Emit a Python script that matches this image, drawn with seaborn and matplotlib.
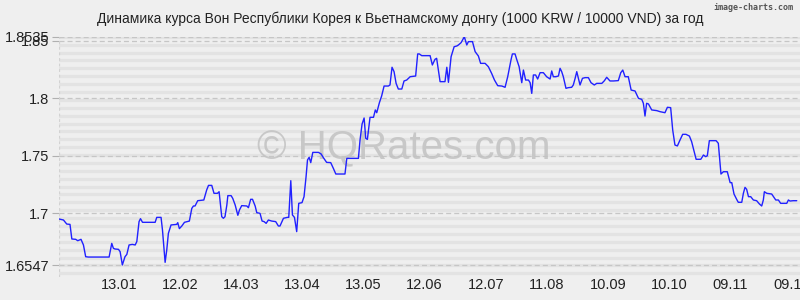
import numpy as np
import pandas as pd
import matplotlib
matplotlib.use("Agg")
import matplotlib.pyplot as plt
import seaborn as sns

# ---------------- data ----------------
title = "Динамика курса Вон Республики Корея к Вьетнамскому донгу (1000 KRW / 10000 VND) за год"

# days counted from 13.01 (first x tick)
day_offsets = [
    -29.5, -27.3, -25.7, -24.1, -23.2, -21.3, -20.3, -18.7, -17.5, -16.4, -15.1, -4.9,
    -3.6, -2.8, -2.0, -0.3, 0.5, 1.6, 2.9, 3.8, 4.9, 6.5, 7.9, 8.7, 9.8, 10.5, 11.5,
    17.7, 18.5, 20.6, 21.3, 22.6, 23.4, 24.2, 25.5, 28.3, 28.8, 29.6, 30.8, 32.1, 34.5,
    35.7, 36.5, 37.3, 38.6, 41.6, 43.0, 43.9, 45.5, 46.6, 48.3, 49.1, 50.4, 51.2, 52.0,
    52.9, 53.4, 55.0, 55.8, 57.0, 58.3, 59.1, 60.2,
    62.7, 63.5, 64.6, 65.5, 66.8, 67.6, 69.2, 70.2, 71.2, 72.2, 73.3, 74.9, 76.9, 78.2,
    79.0, 80.7, 82.6, 83.3, 84.3, 85.1, 86.1, 87.2, 88.2, 89.8, 90.8, 91.8, 92.5, 93.3,
    94.1, 95.1, 97.9, 99.2, 100.3, 101.9, 103.9, 105.2, 106.4, 108.5, 110.9, 111.8,
    114.2, 117.5, 118.3, 119.3, 120.3, 121.1, 121.9, 123.2, 124.9, 125.8, 126.5, 127.8,
    128.9, 130.1, 132.2, 133.0, 134.0, 135.0, 136.0, 137.1, 138.8, 139.9, 141.2, 142.9,
    145.6, 146.6, 147.4, 148.6, 152.7,
    153.8, 155.1, 155.9, 157.6, 159.2, 160.0, 160.9, 161.7, 163.0, 164.5, 165.8, 166.6,
    167.9, 169.5, 170.7, 171.5, 173.5, 174.8, 176.4, 177.5, 179.7, 181.3, 182.9, 184.3,
    185.9, 187.9, 189.5, 190.8, 192.4, 193.1, 194.4, 195.2, 196.4, 197.7, 198.5, 199.6,
    201.0, 201.8, 202.6, 203.4, 204.5, 205.5, 206.7, 208.3, 209.9, 211.6, 212.4, 213.2,
    214.4, 215.7, 216.5, 217.3, 218.1, 219.4, 220.6, 222.2, 223.0, 223.9, 224.7, 225.5,
    226.3, 227.5, 228.8, 230.4, 231.7, 233.3, 234.5, 237.0, 238.3, 239.4, 241.0,
    242.7, 245.1, 246.3, 247.3, 248.4, 250.0, 251.4, 253.3, 255.0, 256.6, 257.4, 258.2,
    259.0, 259.9, 261.5, 264.0, 265.6, 268.0, 269.2, 270.8, 271.8, 272.9, 274.1, 275.4,
    276.7, 278.3, 280.0, 281.1, 283.3, 285.6, 286.9, 288.0, 288.8, 289.8, 293.1, 294.2,
    295.5, 296.7, 298.6, 300.0, 300.8, 301.9, 303.2, 304.0, 305.7, 306.5, 307.3, 308.1,
    309.0, 310.1, 311.4, 313.0, 314.4, 315.5, 316.3, 316.8, 318.0, 320.4, 322.4, 323.7,
    324.8, 327.8, 328.6, 329.4, 331.0, 332.7,
]
rates = [
    1.6951, 1.6942, 1.6907, 1.6904, 1.6777, 1.6774, 1.6762, 1.6774, 1.6725, 1.6623, 1.6620, 1.6620,
    1.6739, 1.6696, 1.6690, 1.6687, 1.6667, 1.6551, 1.6623, 1.6643, 1.6725, 1.6730, 1.6725, 1.6754, 1.6928, 1.6954, 1.6922,
    1.6922, 1.6965, 1.6965, 1.6855, 1.6574, 1.6681, 1.6826, 1.6899, 1.6904, 1.6919, 1.6867, 1.6890, 1.6922, 1.6933,
    1.7043, 1.7064, 1.7064, 1.7110, 1.7116, 1.7203, 1.7243, 1.7243, 1.7174, 1.7174, 1.7188, 1.6971, 1.6957, 1.6971,
    1.7072, 1.7154, 1.7154, 1.7130, 1.7072, 1.6983, 1.7029, 1.7067,
    1.7064, 1.7049, 1.7122, 1.7122, 1.7064, 1.7006, 1.7000, 1.6933, 1.6928, 1.6913, 1.6942, 1.6933, 1.6928, 1.6890,
    1.6890, 1.6957, 1.6965, 1.6965, 1.7284, 1.6986, 1.6965, 1.6841, 1.7087, 1.7093, 1.7145, 1.7319, 1.7464, 1.7487,
    1.7441, 1.7530, 1.7530, 1.7516, 1.7484, 1.7443, 1.7441, 1.7391, 1.7342, 1.7342, 1.7342, 1.7478,
    1.7478, 1.7478, 1.7638, 1.7777, 1.7829, 1.7652, 1.7643, 1.7835, 1.7835, 1.7899, 1.7875, 1.7962,
    1.8020, 1.8107, 1.8107, 1.8116, 1.8270, 1.8232, 1.8130, 1.8081, 1.8081, 1.8151, 1.8159, 1.8188,
    1.8194, 1.8386, 1.8386, 1.8371, 1.8371,
    1.8290, 1.8339, 1.8348, 1.8145, 1.8145, 1.8145, 1.8270, 1.8139, 1.8362, 1.8449, 1.8455, 1.8464,
    1.8484, 1.8535, 1.8464, 1.8493, 1.8493, 1.8406, 1.8368, 1.8304, 1.8304, 1.8275, 1.8217, 1.8159,
    1.8110, 1.8107, 1.8096, 1.8188, 1.8333, 1.8386, 1.8386, 1.8339, 1.8275, 1.8136, 1.8246, 1.8159,
    1.8159, 1.8136, 1.8043, 1.8203, 1.8203, 1.8168, 1.8223, 1.8223, 1.8188, 1.8168, 1.8238, 1.8188,
    1.8188, 1.8194, 1.8261, 1.8232, 1.8188, 1.8087, 1.8093, 1.8096, 1.8116, 1.8174, 1.8232, 1.8174,
    1.8116, 1.8174, 1.8180, 1.8180, 1.8136, 1.8116, 1.8130, 1.8130, 1.8154, 1.8183, 1.8151,
    1.8151, 1.8154, 1.8223, 1.8246, 1.8188, 1.8188, 1.8072, 1.8064, 1.8000, 1.7991, 1.7957, 1.7846,
    1.7957, 1.7951, 1.7899, 1.7893, 1.7884, 1.7875, 1.7922, 1.7919, 1.7725, 1.7594, 1.7586, 1.7638,
    1.7687, 1.7687, 1.7672, 1.7623, 1.7470, 1.7470, 1.7507, 1.7493, 1.7501, 1.7632, 1.7632, 1.7609,
    1.7342, 1.7362, 1.7362, 1.7267, 1.7267, 1.7168, 1.7122, 1.7096, 1.7096, 1.7174, 1.7226, 1.7209,
    1.7145, 1.7145, 1.7116, 1.7110, 1.7081, 1.7064, 1.7116, 1.7188, 1.7174, 1.7168, 1.7116, 1.7116,
    1.7087, 1.7087, 1.7116, 1.7107, 1.7110, 1.7110,
]

x_tick_days = [0, 30, 60, 90, 120, 150, 180, 210, 240, 270, 300, 330]
x_tick_labels = ["13.01", "12.02", "14.03", "13.04", "13.05", "12.06",
                 "12.07", "11.08", "10.09", "10.10", "09.11", "09.12"]
y_min, y_max = 1.6547, 1.8535
y_ticks = [1.6547, 1.7, 1.75, 1.8, 1.85, 1.8535]
y_tick_labels = ["1.6547", "1.7", "1.75", "1.8", "1.85", "1.8535"]

df = pd.DataFrame({"day": day_offsets, "rate": rates})

# ---------------- style ----------------
sns.set_theme(style="white")
plt.rcParams["font.family"] = ["Liberation Sans", "DejaVu Sans"]
plt.rcParams["lines.scale_dashes"] = False
BG = "#efefef"

fig = plt.figure(figsize=(8, 3), dpi=100, facecolor=BG)
ax = fig.add_axes([59 / 800, 1 - 276.6 / 300, 1 - 59 / 800, (276.6 - 36.8) / 300])
ax.set_facecolor(BG)

# dense minor grid rows
step = (y_max - y_min) / 29
for k in range(31):
    ax.axhline(y_max - k * step, color="#d9d9d9", lw=2.3,
               dashes=(0.72, 0.72), zorder=0.5)
# major grid lines
for yv in y_ticks:
    ax.axhline(yv, color="#c6c6c6", lw=0.9, dashes=(3.6, 2.2), zorder=0.6)
ax.axvline(-29.5, color="#d2d2d2", lw=0.9, dashes=(2, 2), zorder=0.6)

# watermark
ax.text(0.465, 0.535, "© HQRates.com", transform=ax.transAxes, fontsize=29,
        color="#c2c2c2", alpha=0.85, ha="center", va="center", zorder=1)

sns.lineplot(data=df, x="day", y="rate", ax=ax, color="#2121ff", lw=1.0,
             zorder=3, estimator=None, sort=False)

ax.set_xlim(-29.5, 334.3)
ax.set_ylim(1.645, y_max)
ax.set_xticks(x_tick_days)
ax.set_xticklabels(x_tick_labels, fontsize=10.5, color="#222222")
ax.set_yticks(y_ticks)
ax.set_yticklabels(y_tick_labels, fontsize=10.5, color="#222222")
ax.tick_params(axis="x", length=0, pad=1)
ax.tick_params(axis="y", length=5, width=0.8, color="#b0b0b0", pad=2, left=True)
ax.set_xlabel("")
ax.set_ylabel("")
for s in ax.spines.values():
    s.set_visible(False)

fig.text(0.5, 1 - 19 / 300, title, ha="center", va="center", fontsize=10,
         color="#222222")
fig.text(793 / 800, 1 - 7 / 300, "image-charts.com", ha="right", va="center",
         fontsize=6, color="#555555", family="DejaVu Sans Mono", weight="bold")

fig.savefig("out.png", dpi=100, facecolor=BG)
